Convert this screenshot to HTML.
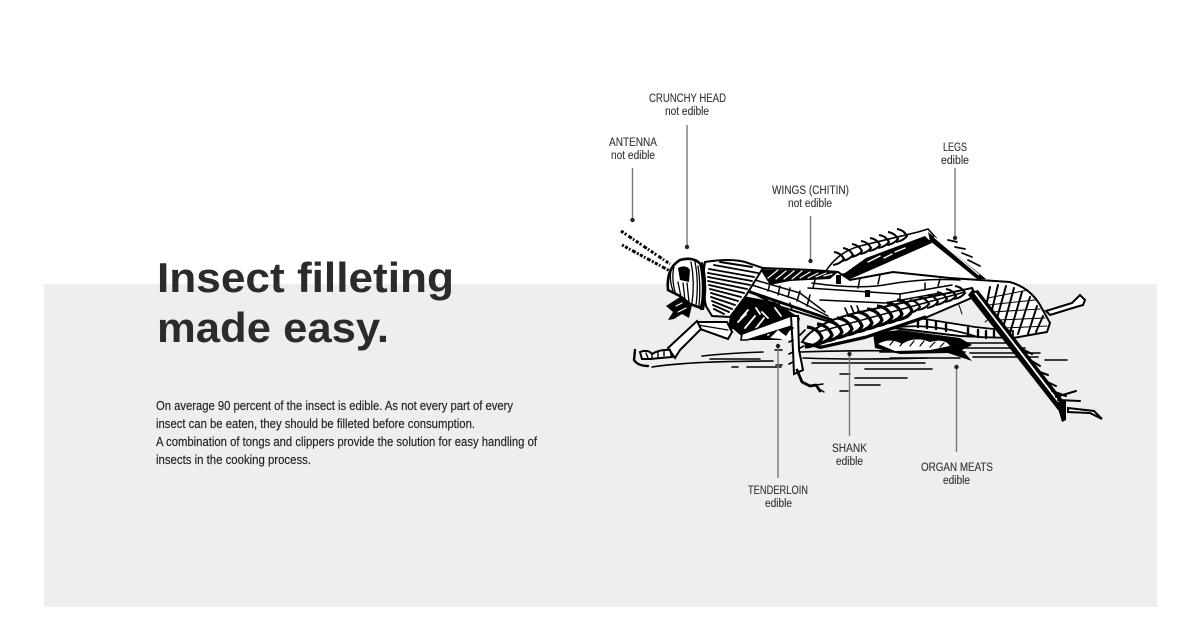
<!DOCTYPE html>
<html><head><meta charset="utf-8"><style>
html,body{margin:0;padding:0;background:#fff}
svg{display:block}
.h{font:700 42px "Liberation Sans",sans-serif;fill:#2b2b2b}
.b{font:12.5px "Liberation Sans Narrow","Liberation Sans",sans-serif;fill:#222;stroke:#222;stroke-width:.15}
.l{font:11.5px "Liberation Sans Narrow","Liberation Sans",sans-serif;fill:#333;stroke:#333;stroke-width:.12}
.c{stroke:#777;stroke-width:1.4;fill:none}
.k{stroke:#000;fill:none;stroke-linecap:round;stroke-linejoin:round}
.w{stroke:#fff;fill:none;stroke-linecap:round;stroke-linejoin:round}
</style></head><body>
<svg width="1200" height="625" viewBox="0 0 1200 625" xmlns="http://www.w3.org/2000/svg">
<defs>
<g id="ch"><path d="M-9-11Q2-10 6 0Q2 8-11 9" fill="none" stroke="#000" stroke-width="3.2"/></g>
<g id="cs"><path d="M-6-7Q1-6 4 0Q0 5-7 6" fill="none" stroke="#000" stroke-width="2.1"/></g>
</defs>
<rect width="1200" height="625" fill="#fff"/>
<rect x="44" y="284" width="1113" height="323" fill="#eee"/>

<text class="h" x="157" y="292" textLength="297" lengthAdjust="spacingAndGlyphs">Insect filleting</text>
<text class="h" x="157" y="342" textLength="232" lengthAdjust="spacingAndGlyphs">made easy.</text>
<text class="b" x="156" y="410" textLength="357" lengthAdjust="spacingAndGlyphs">On average 90 percent of the insect is edible. As not every part of every</text>
<text class="b" x="156" y="428" textLength="319" lengthAdjust="spacingAndGlyphs">insect can be eaten, they should be filleted before consumption.</text>
<text class="b" x="156" y="446" textLength="381" lengthAdjust="spacingAndGlyphs">A combination of tongs and clippers provide the solution for easy handling of</text>
<text class="b" x="156" y="464" textLength="155" lengthAdjust="spacingAndGlyphs">insects in the cooking process.</text>

<!-- ground lines -->
<g class="k" stroke-width="1.6">
<path d="M702 356Q730 353 763 352M652 367Q690 361 773 361M732 367H738M747 367H781M710 359H760M775 350H782M776 365H782"/>
<path d="M800 352Q860 350 900 351M803 358Q860 360 927 358M812 363H925M865 369H932M855 378H907M855 385H880M840 374H850M840 391H848"/>
<path d="M963 343H1017M966 348H1025M970 353H1040M973 357H1038M1045 360H1067M880 352H965M890 358H960"/>
</g>

<!-- far hind leg -->
<path d="M826 271Q838 252 860 246L918 232L928 229L936 238L880 262L838 276Z" fill="#fff" stroke="#000" stroke-width="1.6"/>
<path d="M838 278L866 258L925 236L932 243L880 266L848 280Z" fill="#000"/>
<path class="w" stroke-width="1.4" d="M868 262L880 256M884 258L892 254M895 252L905 248"/>
<g><use href="#cs" x="840" y="259"/><use href="#cs" x="849" y="255"/><use href="#cs" x="858" y="251"/><use href="#cs" x="867" y="248"/><use href="#cs" x="876" y="245"/><use href="#cs" x="885" y="242"/><use href="#cs" x="894" y="239"/><use href="#cs" x="903" y="236"/></g>
<path d="M928 232L986 279L977 279L930 241Z" fill="#000"/>
<path d="M934 237L979 275" stroke="#fff" stroke-width="1.3"/>
<path class="k" stroke-width="1.7" d="M948 240L957 242M955 247L965 249M962 253L972 257M968 260L980 266"/>

<!-- wing / abdomen -->
<path d="M763 268L812 270L838 272L850 280L893 272L950 278L1010 282Q1030 288 1040 305L1050 323L1047 332L1013 338L960 336L893 328L830 322L775 305L748 290Z" fill="#fff" stroke="#000" stroke-width="2"/>
<path d="M760 269L838 272L830 279L790 281L770 285Z" fill="#000"/>
<path class="w" stroke-width="1.2" d="M768 278L778 270M776 279L786 271M784 279L794 271M792 279L802 271M800 278L810 272M808 278L818 273M816 277L826 273M824 276L832 274"/>
<g class="k" stroke-width="1.5">
<path d="M755 280L800 293L825 312M752 285L795 299L828 316M812 283Q860 290 890 284Q925 278 960 280M808 288L900 294L952 285M820 300L885 303L940 293"/>
<path d="M770 283L768 291M780 286L778 295M790 288L788 297M800 291L797 301M810 295L807 306M765 296L768 302M778 302L781 308M790 303L792 310M815 280L813 288M860 278L858 288M880 275L878 284M900 294V300M925 283V290M940 279L938 286"/>
</g>
<path class="k" stroke-width="3" d="M750 292L800 309L832 320"/>
<path d="M836 275H841V284H836ZM865 290H870V297H865Z" fill="#000"/>
<path class="k" stroke-width="1.6" d="M845 308L848 315M851 306L854 313M857 306L859 311"/>
<path d="M934 312L982 296L1000 325L975 328L914 318Z" fill="#eee"/>
<path class="k" stroke-width="1" d="M959 305L962 314M958 330L968 325M985 322L990 318"/>
<path d="M892 328Q930 322 978 337L1013 338L1013 331L975 327L906 316Z" fill="#fff" stroke="#000" stroke-width="1.7"/>
<path class="k" stroke-width="2.4" d="M918 320V327M927 321V328M936 322V329M946 324V331M968 328V336M978 330V337M986 331V338M994 331V337"/>
<!-- rear hatched wing tip -->
<g class="k" stroke-width="2">
<path d="M990 287L985 312M998 285L990 318M1006 286L996 322M1014 288L1003 328M1022 292L1010 333M1030 297L1018 334M1037 306L1028 334M1043 316L1036 332"/>
<path d="M988 298L1028 290M988 305L1035 300M992 312L1040 309M998 320L1045 318M1005 328L1047 326" stroke-width="1"/>
</g>

<!-- lower black abdomen -->
<path d="M873 333L900 330L960 338L972 345L962 350L972 361L948 353L900 354L875 348Z" fill="#000"/>
<path d="M878 344Q890 337 902 344Q915 336 930 342Q945 338 950 346L930 350L895 351Z" fill="#fff"/>
<path class="k" stroke-width="1.2" d="M890 345L894 340M900 346L905 340M910 346L914 341M920 346L924 341M930 347L935 342M940 347L944 343"/>

<!-- hind femur -->
<path d="M802 342Q815 322 860 312L925 298L972 288L976 296L925 318L865 338L820 348Z" fill="#fff" stroke="#000" stroke-width="2"/>
<path class="k" stroke-width="3" d="M806 344L822 347L866 337L925 317"/>
<path class="k" stroke-width="1.5" d="M818 332L965 292"/>
<g>
<use href="#ch" x="816" y="338"/><use href="#ch" x="826" y="335"/><use href="#ch" x="836" y="332"/><use href="#ch" x="846" y="329"/><use href="#ch" x="856" y="326"/><use href="#ch" x="866" y="323"/><use href="#ch" x="876" y="320"/><use href="#ch" x="886" y="317"/><use href="#ch" x="896" y="314"/><use href="#ch" x="906" y="311"/>
<use href="#cs" x="916" y="307"/><use href="#cs" x="925" y="304"/><use href="#cs" x="934" y="302"/><use href="#cs" x="943" y="299"/><use href="#cs" x="952" y="296"/><use href="#cs" x="961" y="293"/>
</g>

<!-- hind tibia -->
<path d="M972 290L1064 410L1058 410L968 295Z" fill="#000"/>
<path d="M978 290L1066 404L1064 408L974 291Z" fill="#000"/>
<path d="M975 293L1061 405" stroke="#fff" stroke-width="1.8"/>
<path class="k" stroke-width="2" d="M1022 349L1032 354M1030 360L1040 366M1037 371L1048 375M1045 381L1056 386M1052 391L1066 396M1058 400L1080 401M1056 397L1076 391"/>
<path d="M1056 402L1066 400L1066 420L1062 422Z" fill="#000"/>
<path d="M1068 408L1094 411L1102 419L1090 413L1068 412Z" fill="#fff" stroke="#000" stroke-width="2"/>
<!-- rear small leg -->
<path d="M1046 311L1072 303L1080 295L1085 300L1083 305L1076 307L1050 315Z" fill="#fff" stroke="#000" stroke-width="2"/>

<!-- thorax black -->
<path d="M743 296L775 302L800 318L796 335L780 340L745 340L728 328L730 316Z" fill="#000"/>
<path class="w" stroke-width="1.8" d="M738 322L746 314M745 328L755 316M752 333L764 318M762 312L768 318M768 335L778 322M775 308L781 316M733 330L740 336M741 318L748 310M756 308L760 314"/>
<path d="M791 316L742 334L741 340L747 340L795 325Z" fill="#fff" stroke="#000" stroke-width="1.6"/>
<path d="M770 338L778 330L786 336L792 327L792 340Z" fill="#fff"/>
<!-- middle leg -->
<path d="M791 316L798 316L799 350L803 370L794 374L793 350Z" fill="#fff" stroke="#000" stroke-width="2"/>
<path class="k" stroke-width="1.7" d="M793 328L789 330M793 340L789 342M793 352L789 354M793 362L789 364M800 335L805 330M800 348L804 346"/>
<path class="k" stroke-width="2.8" d="M797 370L802 382L810 386L816 385L820 391"/>
<path class="k" stroke-width="1.4" d="M816 385L823 384M819 389L824 392"/>

<!-- pronotum -->
<path d="M705 262Q730 258 745 262L763 268L745 297L730 317L712 316L706 306Q701 284 705 262Z" fill="#fff" stroke="#000" stroke-width="2"/>
<g class="k" stroke-width="1.9">
<path d="M720 262L752 267M714 265L758 273M709 269L754 277M708 273L752 281M708 277L750 285M708 281L747 289M709 285L744 293M710 289L741 297M711 293L738 301M711 297L735 305M712 301L732 309M713 305L729 312M714 309L724 314"/>
</g>

<!-- head -->
<path d="M668 290Q666 268 680 260Q695 256 702 266Q707 285 701 308L690 304L680 296Z" fill="#fff" stroke="#000" stroke-width="2.6"/>
<path d="M703 262Q709 285 704 310L700 310Q704 285 699 263Z" fill="#000"/>
<path d="M678 268Q686 264 690 270L689 282L680 280Z" fill="#000"/>
<g class="k" stroke-width="1.3">
<path d="M671 270Q669 280 673 291M674 266Q671 280 676 295M678 282L681 297M683 283L685 300M687 283L689 302M691 262Q695 282 692 303M695 262Q699 282 696 305M698 266Q701 284 699 306"/>
</g>
<!-- mouth -->
<path d="M666 306L680 297L692 305L689 318L682 314L674 319L668 320L673 312Z" fill="#000"/>
<path class="w" stroke-width="1.2" d="M676 306L682 303M678 312L686 308"/>

<!-- antennae -->
<g fill="none" stroke="#000" stroke-width="3">
<path stroke-dasharray="3 1.5 2 2.5 4 1.5 1.5 2" d="M621 231L670 264"/>
<path stroke-dasharray="2 1.5 3 1.5 1.5 2 4 1.5" d="M622 245L670 271"/>
</g>

<!-- front leg -->
<path d="M697 322L727 322L732 332L728 339L700 329Z" fill="#fff" stroke="#000" stroke-width="2"/>
<path class="k" stroke-width="1.3" d="M698 325L728 330"/>
<path d="M697 321L701 329L680 350L675 358L668 348Z" fill="#fff" stroke="#000" stroke-width="2"/>
<path d="M640 352Q648 349 652 354Q660 349 670 350L672 357L650 359L642 359Z" fill="#fff" stroke="#000" stroke-width="2"/>
<path class="k" stroke-width="2.4" d="M635 350L634 360Q638 366 648 366"/>
<path class="k" stroke-width="1.4" d="M646 353L648 358M652 354V359M658 352V357M664 351V356"/>

<!-- connectors -->
<g class="c">
<path d="M632.5 168V220M687 125V247M810.5 216V261M955 168V238M778 346V478M849.5 354V436M956.5 367V452"/>
</g>
<g fill="#222">
<circle cx="632.5" cy="220" r="2.2"/><circle cx="687" cy="247" r="2.2"/><circle cx="810.5" cy="261" r="2.2"/><circle cx="955" cy="238" r="2.2"/><circle cx="778" cy="346" r="2.2"/><circle cx="849.5" cy="354" r="2.2"/><circle cx="956.5" cy="367" r="2.2"/>
</g>

<!-- labels -->
<text class="l" x="649" y="102" textLength="77" lengthAdjust="spacingAndGlyphs">CRUNCHY HEAD</text>
<text class="l" x="665" y="115" textLength="44" lengthAdjust="spacingAndGlyphs">not edible</text>
<text class="l" x="609" y="146" textLength="48" lengthAdjust="spacingAndGlyphs">ANTENNA</text>
<text class="l" x="611" y="159" textLength="44" lengthAdjust="spacingAndGlyphs">not edible</text>
<text class="l" x="943" y="151" textLength="24" lengthAdjust="spacingAndGlyphs">LEGS</text>
<text class="l" x="941" y="164" textLength="28" lengthAdjust="spacingAndGlyphs">edible</text>
<text class="l" x="772" y="194" textLength="77" lengthAdjust="spacingAndGlyphs">WINGS (CHITIN)</text>
<text class="l" x="788" y="207" textLength="44" lengthAdjust="spacingAndGlyphs">not edible</text>
<text class="l" x="748" y="494" textLength="60" lengthAdjust="spacingAndGlyphs">TENDERLOIN</text>
<text class="l" x="765" y="507" textLength="27" lengthAdjust="spacingAndGlyphs">edible</text>
<text class="l" x="832" y="452" textLength="35" lengthAdjust="spacingAndGlyphs">SHANK</text>
<text class="l" x="836" y="465" textLength="27" lengthAdjust="spacingAndGlyphs">edible</text>
<text class="l" x="921" y="471" textLength="72" lengthAdjust="spacingAndGlyphs">ORGAN MEATS</text>
<text class="l" x="943" y="484" textLength="27" lengthAdjust="spacingAndGlyphs">edible</text>
</svg>
</body></html>
